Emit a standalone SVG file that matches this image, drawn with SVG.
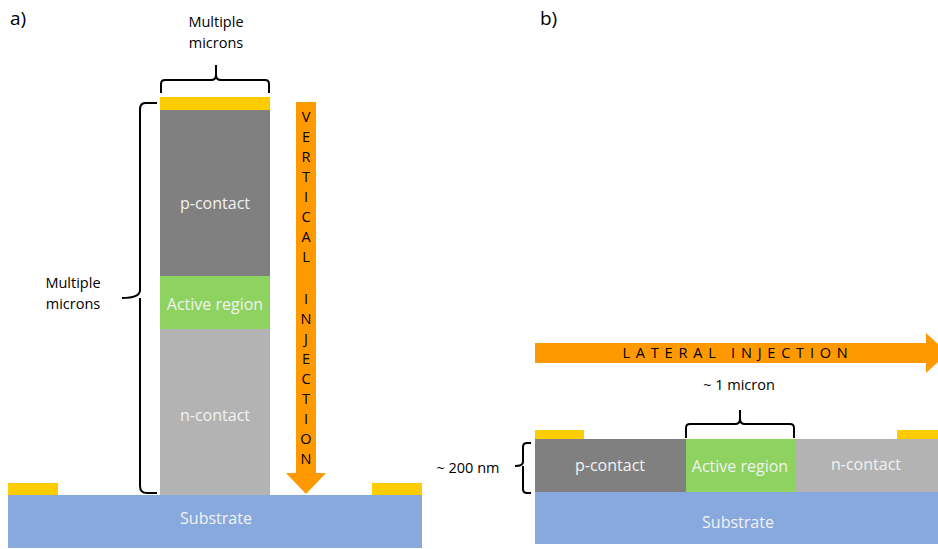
<svg xmlns="http://www.w3.org/2000/svg" width="938" height="549" viewBox="0 0 938 549">
<style>
.lbl{font-family:"Open Sans","DejaVu Sans",sans-serif;font-size:16px;fill:#f2f2f2;text-anchor:middle}
.blk{font-family:"Open Sans","DejaVu Sans",sans-serif;font-size:14.5px;fill:#000;text-anchor:middle}
.pan{font-family:"Open Sans","DejaVu Sans",sans-serif;font-size:19px;fill:#000}
.arr{font-family:"Open Sans","DejaVu Sans",sans-serif;font-size:14.5px;fill:#000;text-anchor:middle}
.brace{fill:none;stroke:#000;stroke-width:2}
.gold{fill:#ffcc00}
.pc{fill:#808080}
.ac{fill:#8ed35f}
.nc{fill:#b3b3b3}
.sub{fill:#87a9dd}
.orange{fill:#ff9900}
</style>
<rect width="938" height="549" fill="#fff"/>
<text class="pan" x="10" y="25">a)</text>
<text class="pan" x="540" y="25">b)</text>

<g id="substrate-a"><rect class="sub" x="8" y="495" width="414" height="53"/><text class="lbl" x="216" y="524">Substrate</text></g>
<g id="pad-a-left"><rect class="gold" x="8" y="483" width="50" height="12"/></g>
<g id="pad-a-right"><rect class="gold" x="372" y="483" width="50" height="12"/></g>
<g id="top-contact-a"><rect class="gold" x="160" y="97" width="110" height="13"/></g>
<g id="p-contact-a"><rect class="pc" x="160" y="110" width="110" height="166"/><text class="lbl" x="215" y="209">p-contact</text></g>
<g id="active-a"><rect class="ac" x="160" y="276" width="110" height="53"/><text class="lbl" x="215" y="310">Active region</text></g>
<g id="n-contact-a"><rect class="nc" x="160" y="329" width="110" height="166"/><text class="lbl" x="215" y="421">n-contact</text></g>

<g id="vertical-arrow">
<polygon class="orange" points="296,102 316,102 316,473 326,473 306,494 286,473 296,473"/>
<text class="arr">
<tspan x="306" y="122">V</tspan><tspan x="306" y="142">E</tspan><tspan x="306" y="162">R</tspan><tspan x="306" y="182">T</tspan><tspan x="306" y="202">I</tspan><tspan x="306" y="222">C</tspan><tspan x="306" y="242">A</tspan><tspan x="306" y="262">L</tspan><tspan x="306" y="304">I</tspan><tspan x="306" y="324">N</tspan><tspan x="306" y="344">J</tspan><tspan x="306" y="364">E</tspan><tspan x="306" y="384">C</tspan><tspan x="306" y="404">T</tspan><tspan x="306" y="424">I</tspan><tspan x="306" y="444">O</tspan><tspan x="306" y="464">N</tspan>
</text>
</g>

<g id="label-top-a"><text class="blk" x="216" y="27">Multiple</text><text class="blk" x="216" y="48">microns</text></g>
<g id="label-left-a"><text class="blk" x="73" y="288">Multiple</text><text class="blk" x="73" y="309">microns</text></g>

<g id="substrate-b"><rect class="sub" x="535" y="492" width="403" height="52"/><text class="lbl" x="738" y="528">Substrate</text></g>
<g id="pad-b-left"><rect class="gold" x="535" y="430" width="49" height="9"/></g>
<g id="pad-b-right"><rect class="gold" x="897" y="430" width="41" height="9"/></g>
<g id="p-contact-b"><rect class="pc" x="535" y="439" width="151" height="53"/><text class="lbl" x="610" y="471">p-contact</text></g>
<g id="active-b"><rect class="ac" x="686" y="439" width="109" height="53"/><text class="lbl" x="740" y="472">Active region</text></g>
<g id="n-contact-b"><rect class="nc" x="795" y="439" width="143" height="53"/><text class="lbl" x="866" y="470">n-contact</text></g>

<g id="lateral-arrow">
<polygon class="orange" points="535,343 926,343 926,333 948,353 926,373 926,363 535,363"/>
<text class="arr" x="738" y="358" font-size="13.5" letter-spacing="5.8">LATERAL INJECTION</text>
</g>
<g id="label-1micron"><text class="blk" x="739" y="390">~ 1 micron</text></g>
<g id="label-200nm"><text class="blk" x="468" y="473">~ 200 nm</text></g>

<g id="connectors">
<path class="brace" d="M161,93 V84 Q161,80 165,80 H211 Q216,80 216,75 V65 M216,75 Q216,80 221,80 H265 Q269,80 269,84 V93"/>
<path class="brace" d="M157,103 H145 Q140,103 140,110 V290 Q140,298 122,298 M140,298 Q140,298 140,306 V486 Q140,493 147,493 H157"/>
<path class="brace" d="M686,438 V428 Q686,424 690,424 H735 Q740,424 740,419 V410 M740,419 Q740,424 745,424 H790 Q794,424 794,428 V438"/>
<path class="brace" d="M531,443 H527 Q523,443 523,447 V462 Q523,466 515,466 M523,466 Q523,466 523,470 V489 Q523,493 527,493 H531"/>
</g>
</svg>
